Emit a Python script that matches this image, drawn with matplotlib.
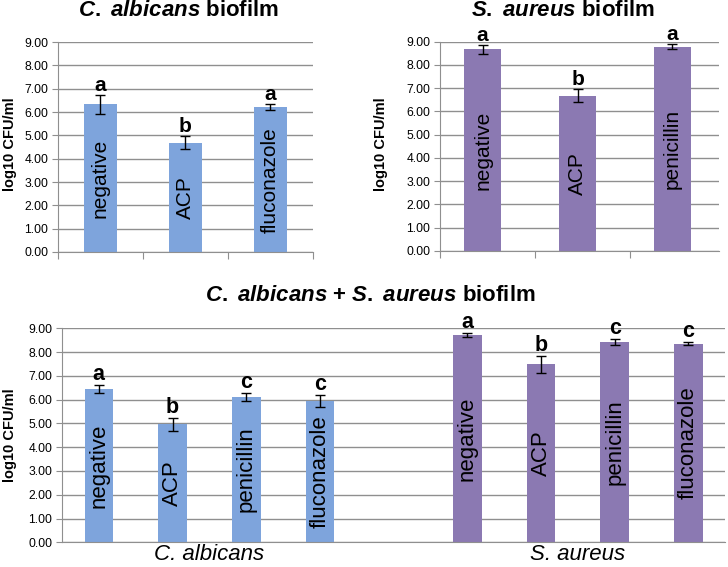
import numpy as np
import matplotlib
matplotlib.use('Agg')
import matplotlib.pyplot as plt

plt.rcParams['font.family'] = ['Liberation Sans', 'DejaVu Sans']
plt.rcParams['mathtext.fontset'] = 'custom'
plt.rcParams['mathtext.it'] = 'Liberation Sans:italic:bold'
plt.rcParams['mathtext.rm'] = 'Liberation Sans:bold'

# top-left: C. albicans biofilm
ca_names = ['negative', 'ACP', 'fluconazole']
ca_vals = [6.33, 4.68, 6.20]
ca_err = [0.40, 0.28, 0.13]
ca_letters = ['a', 'b', 'a']

# top-right: S. aureus biofilm
sa_names = ['negative', 'ACP', 'penicillin']
sa_vals = [8.68, 6.68, 8.79]
sa_err = [0.20, 0.27, 0.10]
sa_letters = ['a', 'b', 'a']

# bottom: mixed biofilm
mix_names = ['negative', 'ACP', 'penicillin', 'fluconazole']
mix_ca_vals = [6.46, 4.96, 6.12, 5.95]
mix_ca_err = [0.17, 0.26, 0.17, 0.25]
mix_ca_letters = ['a', 'b', 'c', 'c']
mix_sa_vals = [8.72, 7.48, 8.43, 8.36]
mix_sa_err = [0.10, 0.34, 0.14, 0.08]
mix_sa_letters = ['a', 'b', 'c', 'c']
groups = ['C. albicans', 'S. aureus']

blue = '#7ea4dc'
purple = '#8b79b2'
grid_col = '#8f8f8f'
yticks = np.arange(0, 10)


def style_axes(ax):
    ax.set_ylim(0, 9)
    ax.set_yticks(yticks)
    ax.set_yticklabels(['%.2f' % t for t in yticks], fontsize=8.7)
    ax.yaxis.grid(True, color=grid_col, linewidth=1)
    ax.set_axisbelow(True)
    for s in ['top', 'right']:
        ax.spines[s].set_visible(False)
    for s in ['left', 'bottom']:
        ax.spines[s].set_color(grid_col)
    ax.tick_params(axis='y', length=4, color=grid_col, pad=3)


def draw_bars(ax, x, vals, errs, names, letters, color, fs_name, fs_letter):
    ax.bar(x, vals, width=0.39, color=color, zorder=2)
    ax.errorbar(x, vals, yerr=errs, fmt='none', ecolor='black',
                elinewidth=1, capsize=3.5, capthick=1, zorder=3)
    for xi, v, e, n, l in zip(x, vals, errs, names, letters):
        ax.text(xi, v / 2, n, rotation=90, ha='center', va='center',
                fontsize=fs_name, zorder=4)
        ax.annotate(l, (xi, v + e), xytext=(0, 0), textcoords='offset points',
                    ha='center', va='bottom', fontsize=fs_letter,
                    fontweight='bold', zorder=4)


fig = plt.figure(figsize=(7.28, 5.67), dpi=100)

ax1 = fig.add_axes([0.0797, 0.5556, 0.350, 0.370])
x1 = np.arange(len(ca_vals)) + 0.5
draw_bars(ax1, x1, ca_vals, ca_err, ca_names, ca_letters, blue, 15, 15)
style_axes(ax1)
ax1.set_xlim(0, 3)
ax1.set_xticks(np.arange(0, 4))
ax1.set_xticklabels([])
ax1.tick_params(axis='x', length=5, color=grid_col, direction='out')

ax2 = fig.add_axes([0.6044, 0.5578, 0.383, 0.3686])
x2 = np.arange(len(sa_vals)) + 0.45
draw_bars(ax2, x2, sa_vals, sa_err, sa_names, sa_letters, purple, 15, 15)
style_axes(ax2)
ax2.set_xlim(0, 2.94)
ax2.set_xticks(np.arange(0, 3))
ax2.set_xticklabels([])
ax2.tick_params(axis='x', length=5, color=grid_col, direction='out')

ax3 = fig.add_axes([0.0852, 0.0436, 0.911, 0.3774])
x3a = np.arange(len(mix_ca_vals)) + 0.5
x3b = np.arange(len(mix_sa_vals)) + 5.5
draw_bars(ax3, x3a, mix_ca_vals, mix_ca_err, mix_names, mix_ca_letters, blue, 16, 15.5)
draw_bars(ax3, x3b, mix_sa_vals, mix_sa_err, mix_names, mix_sa_letters, purple, 16, 15.5)
style_axes(ax3)
ax3.set_xlim(0, 9)
ax3.set_xticks([2, 7])
ax3.set_xticklabels(groups, fontsize=16, style='italic')
ax3.tick_params(axis='x', length=0, pad=1.5)

# titles and y labels
fig.text(0.245, 0.9815, r'$\mathit{C.}$ $\mathit{albicans}$ biofilm', ha='center', va='center',
         fontsize=16, fontweight='bold')
fig.text(0.773, 0.9815, r'$\mathit{S.}$ $\mathit{aureus}$ biofilm', ha='center', va='center',
         fontsize=16, fontweight='bold')
fig.text(0.508, 0.479, r'$\mathit{C.}$ $\mathit{albicans}$ + $\mathit{S.}$ $\mathit{aureus}$ biofilm',
         ha='center', va='center', fontsize=16, fontweight='bold')
for xf, yf in [(0.0137, 0.745), (0.5234, 0.745), (0.0137, 0.232)]:
    fig.text(xf, yf, 'log10 CFU/ml', rotation=90, ha='center', va='center',
             fontsize=10.5, fontweight='bold')

fig.savefig('out.png', dpi=100)
